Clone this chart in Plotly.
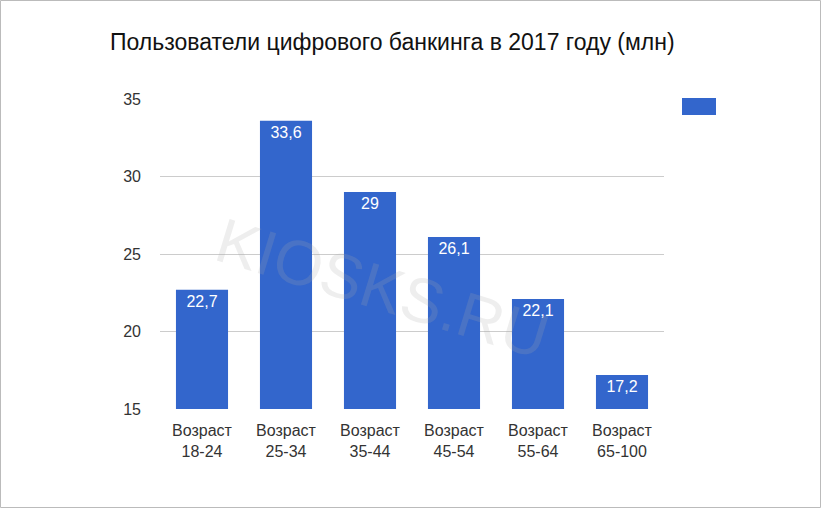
import plotly.graph_objects as go

categories = ["Возраст<br>18-24", "Возраст<br>25-34", "Возраст<br>35-44",
              "Возраст<br>45-54", "Возраст<br>55-64", "Возраст<br>65-100"]
values = [22.7, 33.6, 29, 26.1, 22.1, 17.2]
y_ticks = [15, 20, 25, 30, 35]
title_text = "Пользователи цифрового банкинга в 2017 году (млн)"
watermark = "KIOSKS.RU"

BLUE = "#3366CC"
FONT = "Arial, Liberation Sans, sans-serif"

fig = go.Figure()
fig.add_trace(go.Bar(
    x=categories, y=values,
    marker=dict(color=BLUE, line=dict(width=0)),
    width=0.62,
    text=values, texttemplate="%{y}", textposition="inside",
    insidetextanchor="end",
    textfont=dict(color="white", size=16, family=FONT),
    cliponaxis=True,
    showlegend=False,
))

L, R, T, B = 160, 158, 99, 100
W, H = 822, 509
pw, ph = W - L - R, H - T - B

fig.update_layout(
    width=W, height=H,
    margin=dict(l=L, r=R, t=T, b=B, pad=0),
    paper_bgcolor="white", plot_bgcolor="white",
    separators=", ",
    font=dict(family=FONT, color="#333", size=16),
    title=dict(text=title_text, x=110 / W, xref="container", xanchor="left",
               y=1 - 42 / H, yref="container", yanchor="middle",
               font=dict(size=23, color="#111", family=FONT)),
    xaxis=dict(showgrid=False, showline=False, ticks="", tickfont=dict(size=16, color="#333"),
               range=[-0.5, 5.5], ticklabelstandoff=10),
    yaxis=dict(range=[15, 35], tickvals=y_ticks, showgrid=True, gridcolor="#cccccc",
               gridwidth=1, zeroline=False, showline=False, ticks="",
               ticklabelstandoff=18, tickfont=dict(size=16, color="#333")),
    bargap=0.38,
)

# legend swatch
fig.add_shape(type="rect", xref="paper", yref="paper",
              x0=(682 - L) / pw, x1=(716 - L) / pw,
              y0=(H - B - 115) / ph, y1=(H - B - 98) / ph,
              fillcolor=BLUE, line=dict(width=0), layer="above")

# light border around the image
fig.add_shape(type="rect", xref="paper", yref="paper",
              x0=(0.5 - L) / pw, x1=(820.5 - L) / pw,
              y0=(H - B - 507.5) / ph, y1=(H - B - 0.5) / ph,
              line=dict(color="#bbbbbb", width=1), fillcolor="rgba(0,0,0,0)")

# watermark
fig.add_annotation(text=watermark, xref="paper", yref="paper",
                   x=(382 - L) / pw, y=(H - B - 288) / ph,
                   showarrow=False, textangle=17,
                   font=dict(size=63, color="rgba(170,170,170,0.2)", family=FONT))

fig.write_html("out.html", config={"displayModeBar": False},
               post_script="document.body.style.margin='0';document.body.style.overflow='hidden';")
